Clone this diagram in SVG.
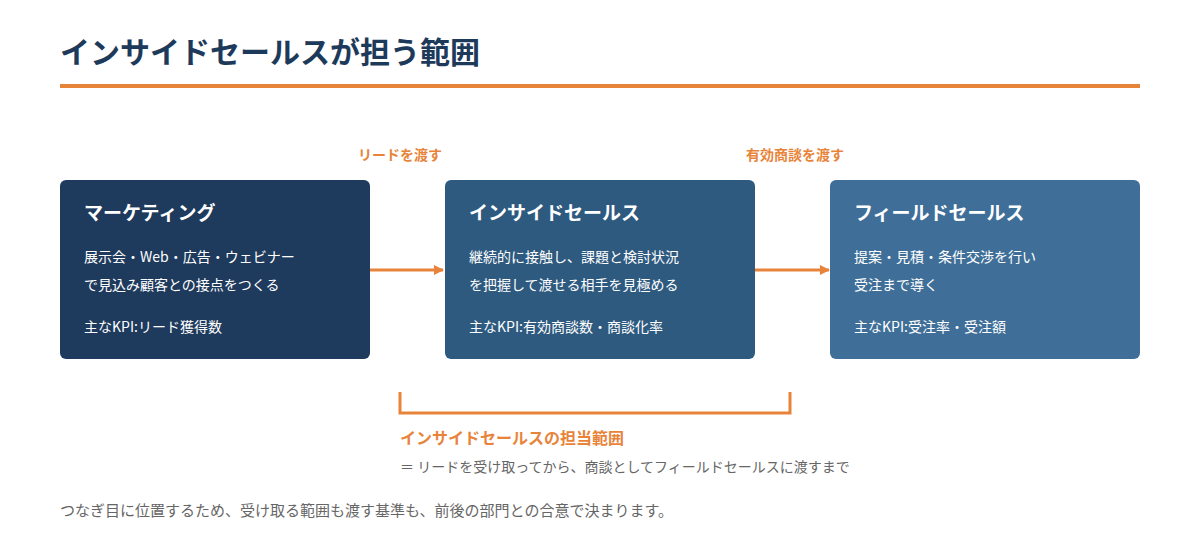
<svg xmlns="http://www.w3.org/2000/svg" width="1200" height="540" viewBox="0 0 1200 540">
<defs>
<style>
text{font-family:"Noto Sans CJK JP","Noto Sans",sans-serif}
.title{font-size:30px;font-weight:700;fill:#1e3a5a}
.nt{font-size:19px;font-weight:700;fill:#fff}
.nb{font-size:14px;fill:#fff}
.lbl{font-size:14px;font-weight:700;fill:#e8843a}
.con{stroke:#e8843a;stroke-width:3;fill:none}
</style>
<marker id="ah" markerWidth="10" markerHeight="10" refX="9" refY="5" orient="auto" markerUnits="userSpaceOnUse"><path d="M0,0 L10,5 L0,10 z" fill="#e8843a"/></marker>
</defs>
<rect width="1200" height="540" fill="#fff"/>
<text class="title" x="60" y="63">インサイドセールスが担う範囲</text>
<rect x="60" y="84" width="1080" height="4" fill="#e8843a"/>
<g id="marketing">
<rect x="60" y="180" width="310" height="179" rx="6" fill="#1e3a5c"/>
<text class="nt" x="84" y="220">マーケティング</text>
<text class="nb" x="84" y="262">展示会・Web・広告・ウェビナー</text>
<text class="nb" x="84" y="290">で見込み顧客との接点をつくる</text>
<text class="nb" x="84" y="332">主なKPI:リード獲得数</text>
</g>
<g id="inside">
<rect x="445" y="180" width="310" height="179" rx="6" fill="#2e5a80"/>
<text class="nt" x="469" y="220">インサイドセールス</text>
<text class="nb" x="469" y="262">継続的に接触し、課題と検討状況</text>
<text class="nb" x="469" y="290">を把握して渡せる相手を見極める</text>
<text class="nb" x="469" y="332">主なKPI:有効商談数・商談化率</text>
</g>
<g id="field">
<rect x="830" y="180" width="310" height="179" rx="6" fill="#3f6f98"/>
<text class="nt" x="854" y="220">フィールドセールス</text>
<text class="nb" x="854" y="262">提案・見積・条件交渉を行い</text>
<text class="nb" x="854" y="290">受注まで導く</text>
<text class="nb" x="854" y="332">主なKPI:受注率・受注額</text>
</g>
<g id="connectors">
<line class="con" x1="370" y1="270" x2="443" y2="270" marker-end="url(#ah)"/>
<line class="con" x1="755" y1="270" x2="829" y2="270" marker-end="url(#ah)"/>
<text class="lbl" x="400" y="160" text-anchor="middle">リードを渡す</text>
<text class="lbl" x="795" y="160" text-anchor="middle">有効商談を渡す</text>
</g>
<path class="con" d="M400,392 V413 H790 V392"/>
<text x="400" y="444" style="font-size:16px;font-weight:700;fill:#e8843a">インサイドセールスの担当範囲</text>
<text x="400" y="472" style="font-size:14px;fill:#666">＝ リードを受け取ってから、商談としてフィールドセールスに渡すまで</text>
<text x="60" y="516" style="font-size:15px;fill:#666">つなぎ目に位置するため、受け取る範囲も渡す基準も、前後の部門との合意で決まります。</text>
</svg>
